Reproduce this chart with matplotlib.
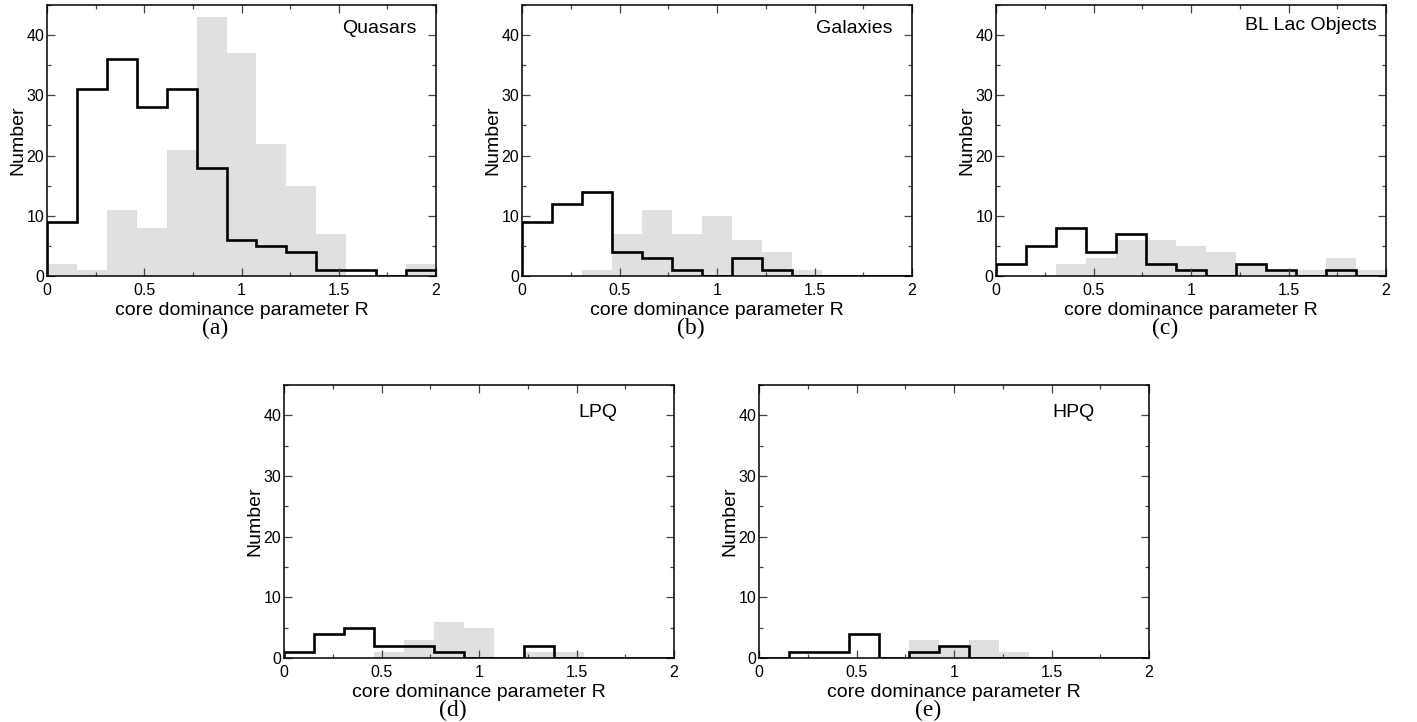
import numpy as np
import matplotlib
matplotlib.use("Agg")
import matplotlib.pyplot as plt
from matplotlib.ticker import MultipleLocator

plt.rcParams['font.family'] = ['Liberation Sans', 'DejaVu Sans']

# 13 bins of core dominance parameter R between 0 and 2
edges = np.linspace(0, 2, 14)

names = ["Quasars", "Galaxies", "BL Lac Objects", "LPQ", "HPQ"]
captions = ["(a)", "(b)", "(c)", "(d)", "(e)"]

# black outline histograms
quasars_line = [9, 31, 36, 28, 31, 18, 6, 5, 4, 1, 1, 0, 1]
galaxies_line = [9, 12, 14, 4, 3, 1, 0, 3, 1, 0, 0, 0, 0]
bllac_line = [2, 5, 8, 4, 7, 2, 1, 0, 2, 1, 0, 1, 0]
lpq_line = [1, 4, 5, 2, 2, 1, 0, 0, 2, 0, 0, 0, 0]
hpq_line = [0, 1, 1, 4, 0, 1, 2, 0, 0, 0, 0, 0, 0]

# grey filled histograms
quasars_fill = [2, 1, 11, 8, 21, 43, 37, 22, 15, 7, 0, 0, 2]
galaxies_fill = [0, 0, 1, 7, 11, 7, 10, 6, 4, 1, 0, 0, 0]
bllac_fill = [0, 0, 2, 3, 6, 6, 5, 4, 2, 1, 1, 3, 1]
lpq_fill = [0, 0, 0, 1, 3, 6, 5, 0, 1, 1, 0, 0, 0]
hpq_fill = [0, 0, 0, 0, 0, 3, 2, 3, 1, 0, 0, 0, 0]

lines = [quasars_line, galaxies_line, bllac_line, lpq_line, hpq_line]
fills = [quasars_fill, galaxies_fill, bllac_fill, lpq_fill, hpq_fill]

W, H = 1417, 722
# axes boxes in pixels: left, top, right, bottom
boxes = [(47, 5, 436, 276), (522, 5, 912, 276), (996, 5, 1386, 276),
         (284, 385, 674, 658), (759, 385, 1149, 658)]
# where the panel name sits (axes fraction, right aligned)
name_pos = [(0.949, 0.912), (0.951, 0.912), (0.977, 0.926), (0.854, 0.90), (0.861, 0.90)]

fig = plt.figure(figsize=(W / 100, H / 100), dpi=100)

for i in range(5):
    l, t, r, b = boxes[i]
    ax = fig.add_axes([l / W, 1 - b / H, (r - l) / W, (b - t) / H])
    ax.stairs(fills[i], edges, fill=True, color="#e0e0e0", lw=0)
    ax.stairs(lines[i], edges, color="black", lw=1.9)
    ax.set_xlim(0, 2)
    ax.set_ylim(0, 45)
    ax.xaxis.set_major_locator(MultipleLocator(0.5))
    ax.xaxis.set_minor_locator(MultipleLocator(0.25))
    ax.yaxis.set_major_locator(MultipleLocator(10))
    ax.yaxis.set_minor_locator(MultipleLocator(5))
    ax.set_xticks([0, 0.5, 1, 1.5, 2])
    ax.set_xticklabels(["0", "0.5", "1", "1.5", "2"])
    ax.tick_params(which="both", direction="in", top=True, right=True,
                   color="#444444", width=0.9, labelsize=11.5)
    ax.tick_params(which="major", length=6)
    ax.tick_params(which="minor", length=3)
    ax.tick_params(axis="x", which="major", pad=5)
    ax.tick_params(axis="y", which="major", pad=2)
    for s in ax.spines.values():
        s.set_linewidth(1.1)
    ax.set_xlabel("core dominance parameter R", fontsize=14, labelpad=3)
    ax.set_ylabel("Number", fontsize=14, labelpad=0)
    nx, ny = name_pos[i]
    ax.text(nx, ny, names[i], transform=ax.transAxes, ha="right", va="center",
            fontsize=14)
    fig.text((l + r) / 2 / W - 26 / W, 1 - (b + 52) / H, captions[i],
             ha="center", va="center", fontsize=17, family="Liberation Serif")

fig.savefig("out.png", dpi=100)
